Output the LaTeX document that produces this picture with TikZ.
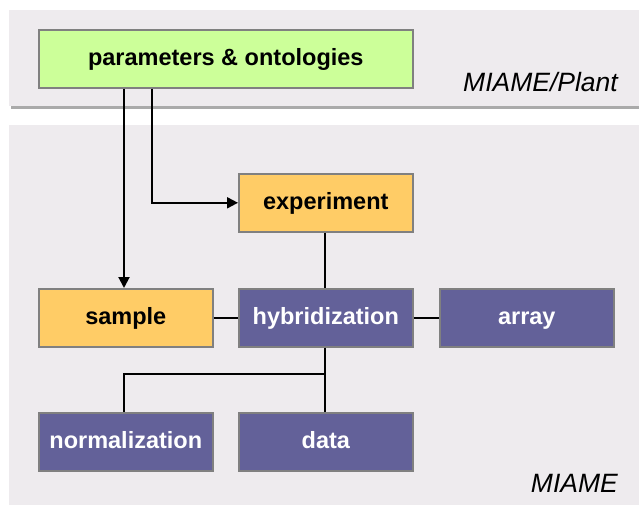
\documentclass[tikz,border=0pt]{standalone}
\usepackage{fontspec}
\setmainfont{Liberation Sans}
\usetikzlibrary{arrows.meta}
\definecolor{bandgray}{RGB}{238,235,238}
\definecolor{shadowgray}{RGB}{170,170,170}
\definecolor{boxborder}{RGB}{128,128,128}
\definecolor{paramgreen}{RGB}{204,255,153}
\definecolor{exporange}{RGB}{255,204,102}
\definecolor{miamepurple}{RGB}{99,97,153}
\tikzset{
  box/.style={draw=boxborder, line width=1.6pt, minimum width=174pt, minimum height=58pt,
    inner sep=0pt, text height=17pt, text depth=3pt,
    font=\fontsize{23.5}{27}\selectfont\bfseries, anchor=north west},
  greenbox/.style={box, fill=paramgreen, text=black, minimum width=374pt},
  orangebox/.style={box, fill=exporange, text=black},
  purplebox/.style={box, fill=miamepurple, text=white},
  conn/.style={line width=2pt, black},
  arr/.style={conn, -{Triangle[length=11pt,width=11pt]}},
  label/.style={font=\fontsize{26.5}{30}\selectfont\itshape, anchor=base east, inner sep=0pt}
}
\begin{document}
\begin{tikzpicture}[x=1pt,y=-1pt]
\useasboundingbox (0,0) rectangle (639,506);
\fill[white] (0,0) rectangle (639,506);
% bands
\fill[shadowgray] (11,106) rectangle (639,109);
\fill[bandgray] (9,10) rectangle (639,106);
\fill[bandgray] (9,125) rectangle (639,505);
% nodes
\node[greenbox] (params) at (38,29) {parameters \& ontologies};
\node[orangebox] (exp) at (238,173) {experiment};
\node[orangebox] (sample) at (38,288) {sample};
\node[purplebox] (hyb) at (238,288) {hybridization};
\node[purplebox] (array) at (439,288) {array};
\node[purplebox] (norm) at (38,412) {normalization};
\node[purplebox] (data) at (238,412) {data};
\node[label] (plant) at (618,91) {MIAME/Plant};
\node[label] (miame) at (618,492) {MIAME};
% connectors
\coordinate (pa) at (124,88);
\coordinate (pb) at (152,88);
\coordinate (br) at (325,374);
\draw[arr] (params.south -| pa) -- (sample.north -| pa);
\draw[arr] (params.south -| pb) |- (exp.west);
\draw[conn] (exp.south -| br) -- (hyb.north -| br);
\draw[conn] (sample.east) -- (hyb.west);
\draw[conn] (hyb.east) -- (array.west);
\draw[conn] (hyb.south -| br) -- (data.north -| br);
\draw[conn] (br) -| (norm.north -| pa);
\end{tikzpicture}
\end{document}
